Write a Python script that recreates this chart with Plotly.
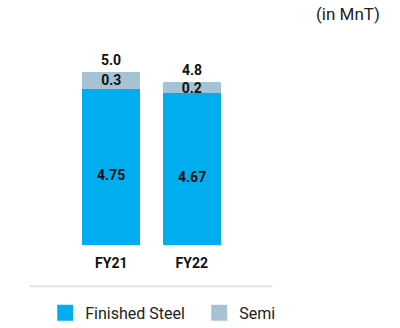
import plotly.graph_objects as go

categories = ["FY21", "FY22"]
finished_steel = [4.75, 4.67]
semi = [0.3, 0.2]
finished_labels = ["4.75", "4.67"]
semi_labels = ["0.3", "0.2"]
total_labels = ["5.0", "4.8"]

BLUE = "#00AEEF"
GRAY = "#A6C3D5"
FONT = "Roboto"
Y0, Y1 = 1.96, 5.44

totals = [a + b for a, b in zip(finished_steel, semi)]

fig = go.Figure()
fig.add_trace(go.Bar(
    x=categories, y=finished_steel, name="Finished Steel",
    marker=dict(color=BLUE, line=dict(width=0)),
    showlegend=False, hoverinfo="skip",
))
fig.add_trace(go.Bar(
    x=categories, y=semi, name="Semi",
    marker=dict(color=GRAY, line=dict(width=0)),
    text=semi_labels, textposition="inside", insidetextanchor="middle",
    textfont=dict(family=FONT, size=14, color="#111111", weight="bold"),
    constraintext="none", showlegend=False, hoverinfo="skip",
))
# legend entries
fig.add_trace(go.Scatter(
    x=[None], y=[None], mode="markers", name="Finished Steel",
    marker=dict(symbol="square", size=17, color=BLUE),
))
fig.add_trace(go.Scatter(
    x=[None], y=[None], mode="markers", name="Semi",
    marker=dict(symbol="square", size=17, color=GRAY),
))

annotations = []
for c, t, lab in zip(categories, totals, total_labels):
    annotations.append(dict(x=c, y=t, text=lab, xref="x", yref="y",
                            yanchor="bottom", yshift=2, showarrow=False,
                            font=dict(family=FONT, size=14, color="#111111", weight="bold")))
for c, v, lab in zip(categories, finished_steel, finished_labels):
    annotations.append(dict(x=c, y=(Y0 + v) / 2, text=lab, xref="x", yref="y",
                            yanchor="middle", yshift=-8, showarrow=False,
                            font=dict(family=FONT, size=14, color="#111111", weight="bold")))
annotations.append(dict(text="(in MnT)", xref="paper", yref="paper",
                        x=1.929, y=1.185, xanchor="right", yanchor="middle",
                        showarrow=False,
                        font=dict(family=FONT, size=17, color="#222222")))

fig.update_layout(
    width=400, height=328,
    margin=dict(l=70.5, r=167.5, t=50, b=83.3, autoexpand=False),
    barmode="stack", bargap=0.284,
    plot_bgcolor="white", paper_bgcolor="white",
    font=dict(family=FONT, color="#111111"),
    xaxis=dict(showgrid=False, zeroline=False, showline=False, ticks="",
               tickfont=dict(family=FONT, size=14, color="#111111", weight="bold"),
               ticklabelstandoff=8, fixedrange=True),
    yaxis=dict(range=[Y0, Y1], visible=False, fixedrange=True),
    showlegend=True,
    legend=dict(orientation="h", xref="paper", yref="paper",
                x=1.753, y=-0.348, xanchor="right", yanchor="middle",
                traceorder="normal",
                font=dict(family=FONT, size=16, color="#222222"),
                itemsizing="trace", entrywidth=109, entrywidthmode="pixels",
                bgcolor="rgba(0,0,0,0)"),
    shapes=[dict(type="line", xref="paper", yref="paper",
                 x0=-0.256, x1=1.25, y0=-0.212, y1=-0.212,
                 line=dict(color="#E3E3E3", width=2))],
    annotations=annotations,
)

fig.write_html("out.html")
